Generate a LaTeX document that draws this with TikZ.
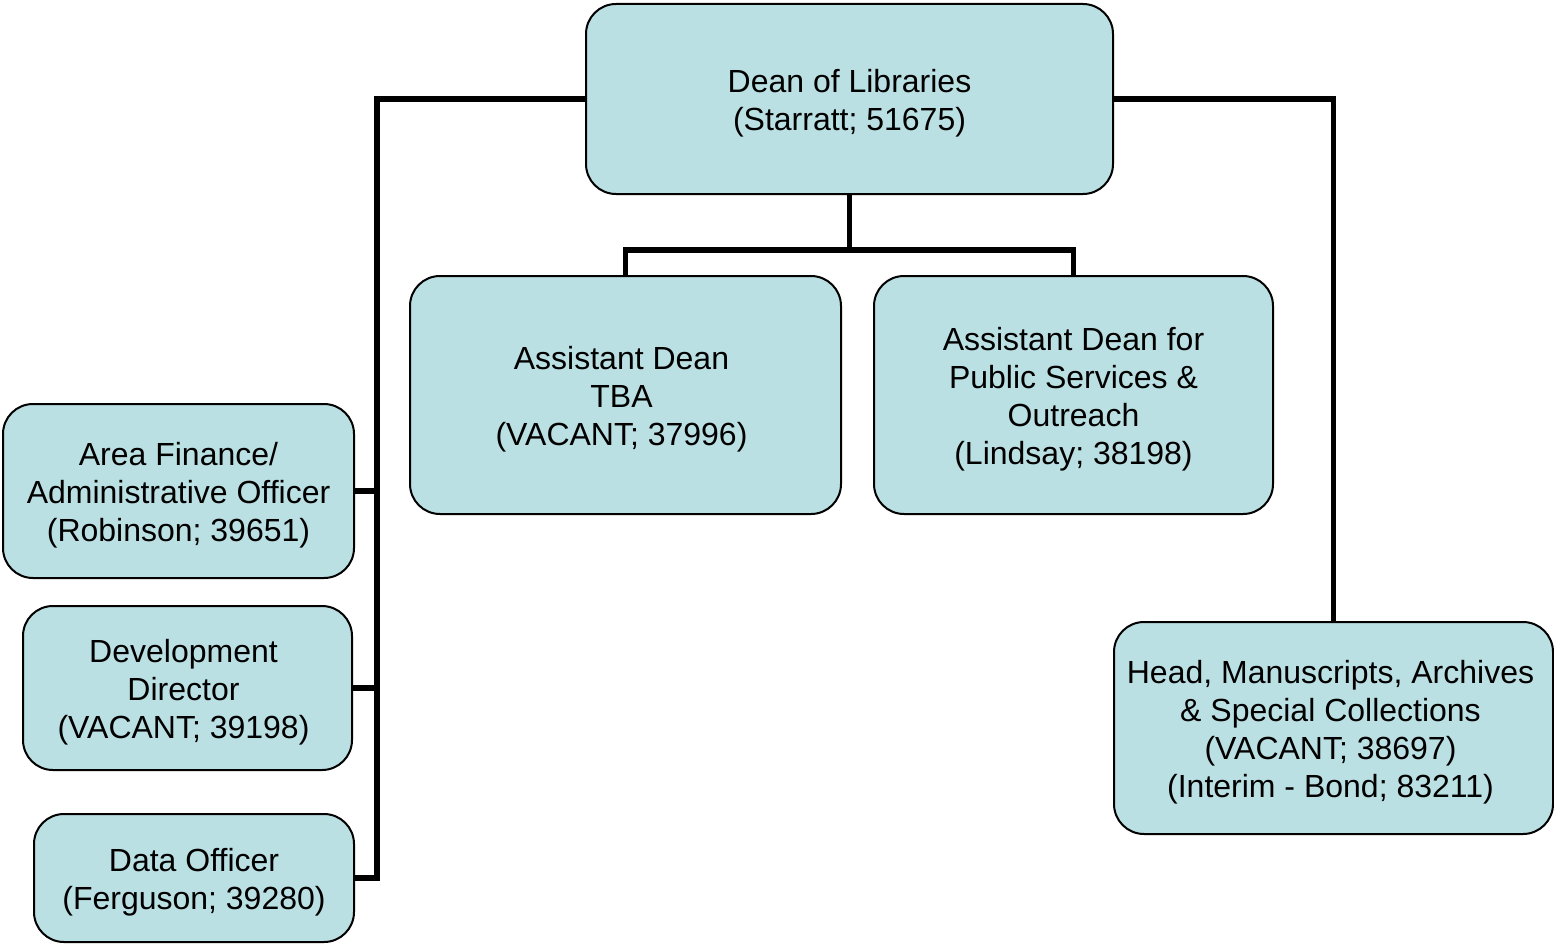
\documentclass[tikz,border=0pt]{standalone}
\usepackage{fontspec}
\setmainfont{Liberation Sans}
\definecolor{boxfill}{HTML}{BBE0E3}
\begin{document}
\begin{tikzpicture}[x=1pt,y=-1pt,
  box/.style={draw=black,line width=2pt,fill=boxfill,rounded corners=30pt,inner sep=0pt},
  link/.style={draw=black,line width=5.5pt},
  lbl/.style={align=center,font=\fontsize{32}{38}\selectfont,yshift=-4pt}]
\useasboundingbox (0,0) rectangle (1554,944);
% boxes
\node[box,minimum width=527pt,minimum height=190pt] (dean) at (849.5,99) {};
\node[lbl] at (dean) {Dean of Libraries\\(Starratt; 51675)};
\node[box,minimum width=431pt,minimum height=238pt] (ad1) at (625.5,395) {};
\node[lbl,xshift=-4pt] at (ad1) {Assistant Dean\\TBA\\(VACANT; 37996)};
\node[box,minimum width=399pt,minimum height=238pt] (ad2) at (1073.5,395) {};
\node[lbl] at (ad2) {Assistant Dean for\\Public Services \&\\Outreach\\(Lindsay; 38198)};
\node[box,minimum width=351pt,minimum height=174pt] (fin) at (178.5,491) {};
\node[lbl] at (fin) {Area Finance/\\Administrative Officer\\(Robinson; 39651)};
\node[box,minimum width=329pt,minimum height=164pt] (dev) at (187.5,688) {};
\node[lbl,xshift=-4pt] at (dev) {Development\\Director\\(VACANT; 39198)};
\node[box,minimum width=320pt,minimum height=128pt] (data) at (194,878) {};
\node[lbl] at (data) {Data Officer\\(Ferguson; 39280)};
\node[box,minimum width=439pt,minimum height=212pt] (head) at (1333.5,728) {};
\node[lbl,xshift=-3pt] at (head) {Head, Manuscripts, Archives\\\& Special Collections\\(VACANT; 38697)\\(Interim - Bond; 83211)};
% connectors
\coordinate (lx) at (377,0);
\coordinate (mid) at (849.5,250);
\draw[link] (dean.west) -| (lx |- data.east) -- (data.east);
\draw[link] (lx |- fin.east) -- (fin.east);
\draw[link] (lx |- dev.east) -- (dev.east);
\draw[link] (dean.east) -| (head.north);
\draw[link] (dean.south) -- (mid);
\draw[link] (ad1.north) |- (mid) -| (ad2.north);
\end{tikzpicture}
\end{document}
